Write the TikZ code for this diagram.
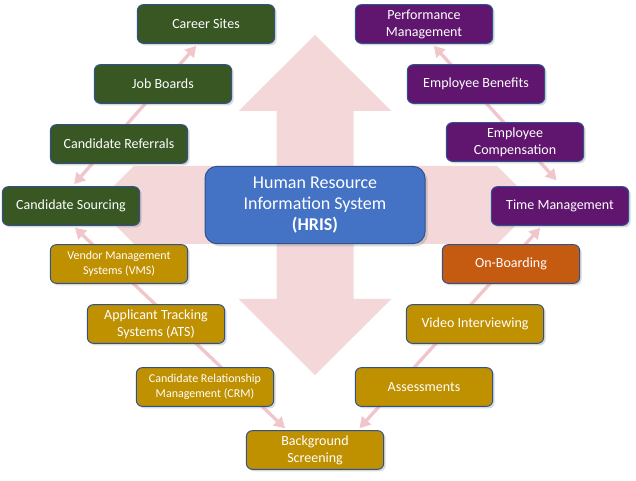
\documentclass[tikz,border=0pt]{standalone}
\usepackage{fontspec}
\setmainfont{Carlito}
\usepackage{tikz}
\usetikzlibrary{arrows.meta,shadows,backgrounds}

\definecolor{boxline}{RGB}{47,82,143}
\definecolor{hrgreen}{RGB}{56,87,35}
\definecolor{hrgold}{RGB}{191,144,0}
\definecolor{hrorange}{RGB}{197,90,17}
\definecolor{hrpurple}{RGB}{96,22,110}
\definecolor{hrblue}{RGB}{68,114,196}
\definecolor{bigpink}{RGB}{244,215,217}
\definecolor{linkpink}{RGB}{240,198,203}

\begin{document}
\begin{tikzpicture}[x=0.75pt, y=-0.75pt,
		hrbox/.style={draw=boxline, line width=0.75pt, rounded corners=4.5pt, text=white, align=center, minimum width=103pt, minimum height=29pt, inner sep=2pt, font=\fontsize{10.5}{12.75}\selectfont, drop shadow={shadow xshift=1.5pt, shadow yshift=-1.5pt, opacity=0.3}},
		greenbox/.style={hrbox, fill=hrgreen},
		goldbox/.style={hrbox, fill=hrgold},
		orangebox/.style={hrbox, fill=hrorange},
		purplebox/.style={hrbox, fill=hrpurple},
		smalltext/.style={font=\fontsize{9}{11.25}\selectfont},
		link/.style={linkpink, line width=2.5pt, {Triangle[length=8pt,width=9pt]}-{Triangle[length=8pt,width=9pt]}, shorten <=2pt, shorten >=2pt}
	]

	\useasboundingbox (0,0) rectangle (636,481);

	\node[draw=boxline, line width=0.75pt, rounded corners=9pt, fill=hrblue, text=white, align=center, minimum width=165pt, minimum height=58pt, font=\fontsize{13.5}{16}\selectfont, drop shadow={shadow xshift=2pt, shadow yshift=-2pt, opacity=0.3}] (hris) at (315,205) {Human Resource\\Information System\\\textbf{(HRIS)}};

	\node[greenbox] (career) at (206,24) {Career Sites};
	\node[greenbox] (jobs) at (163,84) {Job Boards};
	\node[greenbox] (referrals) at (119,144) {Candidate Referrals};
	\node[greenbox] (sourcing) at (71,206) {Candidate Sourcing};

	\node[goldbox, smalltext] (vms) at (119,264) {Vendor Management\\Systems (VMS)};
	\node[goldbox] (ats) at (156,324) {Applicant Tracking\\Systems (ATS)};
	\node[goldbox, smalltext] (crm) at (205,387) {Candidate Relationship\\Management (CRM)};
	\node[goldbox] (screening) at (315,450) {Background\\Screening};
	\node[goldbox] (assess) at (424,387) {Assessments};
	\node[goldbox] (video) at (475,324) {Video Interviewing};
	\node[orangebox] (onboard) at (511,264) {On-Boarding};

	\node[purplebox] (timemgmt) at (560,206) {Time Management};
	\node[purplebox] (comp) at (515,142) {Employee\\Compensation};
	\node[purplebox] (benefits) at (476,84) {Employee Benefits};
	\node[purplebox] (perf) at (424,24) {Performance\\Management};

	\begin{scope}[on background layer]
		\fill[bigpink] (315,35) -- (391.5,111) -- (353.5,111) -- (353.5,166) -- (497,166) -- (536,205) -- (497,244) -- (353.5,244) -- (353.5,299) -- (391.5,299) -- (315,375) -- (238.5,299) -- (276.5,299) -- (276.5,244) -- (134,244) -- (95,205) -- (134,166) -- (276.5,166) -- (276.5,111) -- (238.5,111) -- cycle;

		\draw[link] ([xshift=1pt]sourcing.north) -- ([xshift=-6pt]career.south);
		\draw[link] ([xshift=1.5pt]sourcing.south) -- ([xshift=-21pt]screening.north);
		\draw[link, shorten >=6pt] ([xshift=6pt]perf.south) -- ([xshift=1.5pt]timemgmt.north);
		\draw[link] ([xshift=-13.5pt]timemgmt.south) -- ([xshift=32pt]screening.north);
	\end{scope}

\end{tikzpicture}
\end{document}
